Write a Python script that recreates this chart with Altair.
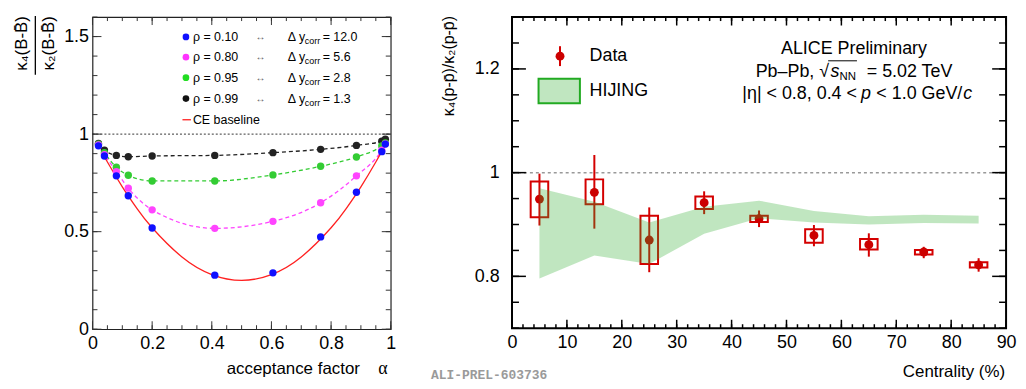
import altair as alt
import pandas as pd

FONT = "Liberation Sans"

# ---------------- Left panel data ----------------
alpha = [0.02, 0.04, 0.08, 0.12, 0.20, 0.41, 0.605, 0.765, 0.885, 0.970, 0.982]
rho_010 = [0.940, 0.888, 0.786, 0.684, 0.519, 0.277, 0.289, 0.473, 0.702, 0.910, 0.949]
rho_080 = [0.945, 0.895, 0.808, 0.723, 0.612, 0.517, 0.553, 0.648, 0.786, 0.918, 0.950]
rho_095 = [0.948, 0.905, 0.830, 0.789, 0.760, 0.760, 0.791, 0.835, 0.883, 0.940, 0.955]
rho_099 = [0.952, 0.918, 0.891, 0.884, 0.888, 0.891, 0.905, 0.922, 0.942, 0.964, 0.974]
series_names = ["rho099", "rho095", "rho080", "rho010"]
series_colors = ["#111111", "#22dd22", "#ff33ff", "#1010ff"]
line_colors = ["#222222", "#33cc33", "#ff44ff", "#1010ff"]

ce_alpha = [0.03, 0.05, 0.10, 0.15, 0.20, 0.30, 0.40, 0.50, 0.60, 0.70, 0.80, 0.85, 0.90, 0.95, 0.97]
ce_value = [0.913, 0.857, 0.730, 0.617, 0.520, 0.370, 0.280, 0.250, 0.280, 0.370, 0.520, 0.617, 0.730, 0.857, 0.913]

left_x_ticks = [0, 0.2, 0.4, 0.6, 0.8, 1]
left_y_ticks = [0, 0.5, 1, 1.5]
left_x_minor = [round(i * 0.05, 2) for i in range(21)]
left_y_minor = [round(i * 0.1, 1) for i in range(17)]

legend_rows = ["ρ = 0.10", "ρ = 0.80", "ρ = 0.95", "ρ = 0.99"]
legend_dy = ["12.0", "5.6", "2.8", "1.3"]

# ---------------- Right panel data ----------------
cent = [5, 15, 25, 35, 45, 55, 65, 75, 85]
ratio = [0.949, 0.962, 0.870, 0.942, 0.911, 0.879, 0.861, 0.847, 0.822]
stat_lo = [0.898, 0.892, 0.808, 0.920, 0.895, 0.858, 0.838, 0.835, 0.809]
stat_hi = [0.998, 1.034, 0.933, 0.964, 0.927, 0.899, 0.883, 0.857, 0.835]
sys_lo = [0.914, 0.939, 0.824, 0.930, 0.905, 0.865, 0.852, 0.842, 0.817]
sys_hi = [0.983, 0.987, 0.917, 0.954, 0.917, 0.891, 0.872, 0.851, 0.827]

hij_cent = [5, 15, 25, 35, 45, 55, 65, 75, 85]
hij_lo = [0.796, 0.840, 0.824, 0.882, 0.912, 0.904, 0.900, 0.903, 0.902]
hij_hi = [0.970, 0.944, 0.904, 0.934, 0.946, 0.926, 0.916, 0.919, 0.917]

right_x_ticks = [0, 10, 20, 30, 40, 50, 60, 70, 80, 90]
right_y_ticks = [0.8, 1.0, 1.2]
right_x_minor = [i * 2 for i in range(46)]
right_y_minor = [round(0.7 + i * 0.05, 2) for i in range(13)]

dummy = pd.DataFrame({"d": [0]})


def txt(s, x, y, size=12, align="left", baseline="middle", color="black",
        font=FONT, angle=0, style="normal", weight="normal"):
    return alt.Chart(dummy).mark_text(
        text=s, align=align, baseline=baseline, fontSize=size, font=font,
        color=color, angle=angle, fontStyle=style, fontWeight=weight
    ).encode(x=alt.value(x), y=alt.value(y))


def ticks(values, orient, length, W, H, xscale, yscale, xaxis, yaxis, color="black", width=1):
    df = pd.DataFrame({"v": values})
    base = alt.Chart(df).mark_rule(color=color, strokeWidth=width)
    if orient == "bottom":
        return base.encode(x=alt.X("v:Q", scale=xscale, axis=xaxis), y=alt.value(H), y2=alt.value(H - length))
    if orient == "top":
        return base.encode(x=alt.X("v:Q", scale=xscale, axis=xaxis), y=alt.value(0), y2=alt.value(length))
    if orient == "left":
        return base.encode(y=alt.Y("v:Q", scale=yscale, axis=yaxis), x=alt.value(0), x2=alt.value(length))
    return base.encode(y=alt.Y("v:Q", scale=yscale, axis=yaxis), x=alt.value(W), x2=alt.value(W - length))


# ================= LEFT PANEL =================
W1, H1 = 300, 314
xs1 = alt.Scale(domain=[0, 1], nice=False, zero=False)
ys1 = alt.Scale(domain=[0, 1.6], nice=False, zero=False)
ax1x = alt.Axis(values=left_x_ticks, format="~g", ticks=False, domain=False, grid=False,
                labelFont=FONT, labelFontSize=18, labelPadding=5, labelFlush=False,
                labelColor="black", title=None)
ax1y = alt.Axis(values=left_y_ticks, format="~g", ticks=False, domain=False, grid=False,
                labelFont=FONT, labelFontSize=18, labelPadding=4, labelColor="black", title=None)

rows = []
for name, vals in zip(series_names, [rho_099, rho_095, rho_080, rho_010]):
    for a, v in zip(alpha, vals):
        rows.append({"alpha": a, "val": v, "series": name})
df_pts = pd.DataFrame(rows)
df_pts["order"] = df_pts["series"].map({n: i for i, n in enumerate(series_names)})
df_ce = pd.DataFrame({"alpha": ce_alpha, "val": ce_value})

one_df = pd.DataFrame({"v": [1.0]})
unity1 = alt.Chart(one_df).mark_rule(color="black", strokeDash=[2, 2], strokeWidth=0.8).encode(
    y=alt.Y("v:Q", scale=ys1, axis=ax1y), x=alt.value(0), x2=alt.value(W1))

dashed = alt.Chart(df_pts[df_pts.series != "rho010"]).mark_line(
    strokeDash=[4, 3], strokeWidth=1.3, interpolate="monotone").encode(
    x=alt.X("alpha:Q", scale=xs1, axis=ax1x),
    y=alt.Y("val:Q", scale=ys1, axis=ax1y),
    color=alt.Color("series:N", scale=alt.Scale(domain=series_names, range=line_colors), legend=None),
    detail="series:N")

ce_line = alt.Chart(df_ce).mark_line(color="#ff2020", strokeWidth=1.3, interpolate="natural").encode(
    x=alt.X("alpha:Q", scale=xs1, axis=ax1x), y=alt.Y("val:Q", scale=ys1, axis=ax1y))

pts = alt.Chart(df_pts).mark_circle(size=55, opacity=1).encode(
    x=alt.X("alpha:Q", scale=xs1, axis=ax1x),
    y=alt.Y("val:Q", scale=ys1, axis=ax1y),
    color=alt.Color("series:N", scale=alt.Scale(domain=series_names, range=series_colors), legend=None),
    order="order:Q")

left_layers = [unity1, dashed, ce_line]
for o, L, l in [("bottom", 8, 4), ("top", 8, 4), ("left", 9, 5), ("right", 9, 5)]:
    minor = left_x_minor if o in ("bottom", "top") else left_y_minor
    major = left_x_ticks if o in ("bottom", "top") else left_y_ticks
    left_layers.append(ticks(minor, o, l, W1, H1, xs1, ys1, ax1x, ax1y, color="#333333"))
    left_layers.append(ticks(major, o, L, W1, H1, xs1, ys1, ax1x, ax1y, color="#333333"))
left_layers.append(pts)

# legend (in-plot)
leg_y = [20, 40.3, 61, 82]
leg_colors = ["#1010ff", "#ff33ff", "#22dd22", "#111111"]
for yy, lab, dyv, col in zip(leg_y, legend_rows, legend_dy, leg_colors):
    left_layers.append(alt.Chart(dummy).mark_circle(size=45, color=col, opacity=1).encode(
        x=alt.value(94), y=alt.value(yy)))
    left_layers.append(txt(lab, 101, yy, size=12.5))
    left_layers.append(txt("↔", 169, yy, size=10, align="center", color="#555555"))
    left_layers.append(txt("Δ y", 196.5, yy, size=12.5))
    left_layers.append(txt("corr", 213.5, yy + 4, size=9))
    left_layers.append(txt("= " + dyv, 231.5, yy, size=12.5))
left_layers.append(alt.Chart(dummy).mark_rule(color="#ff2020", strokeWidth=1.3).encode(
    x=alt.value(90.5), x2=alt.value(99), y=alt.value(103.3)))
left_layers.append(txt("CE baseline", 101, 103.3, size=12.5))

# axis titles
left_layers.append(txt("acceptance factor", 269, 359, size=17, align="right", baseline="alphabetic"))
left_layers.append(txt("α", 297, 359, size=18, align="right", baseline="alphabetic", font="Liberation Serif"))
left_layers.append(txt("κ₄(B-B̄)", -70.5, -1, size=17, align="right", angle=270))
left_layers.append(txt("κ₂(B-B̄)", -43.5, -1, size=17, align="right", angle=270))
left_layers.append(alt.Chart(dummy).mark_rule(color="black", strokeWidth=1.3).encode(
    x=alt.value(-57.5), y=alt.value(-1), y2=alt.value(58)))

left = alt.layer(*left_layers).properties(
    width=W1, height=H1, view=alt.ViewBackground(stroke="#222222", strokeWidth=1.2))

# ================= RIGHT PANEL =================
W2, H2 = 497, 313
xs2 = alt.Scale(domain=[0, 90], nice=False, zero=False)
ys2 = alt.Scale(domain=[0.7, 1.3], nice=False, zero=False)
ax2x = alt.Axis(values=right_x_ticks, format="d", ticks=False, domain=False, grid=False,
                labelFont=FONT, labelFontSize=18, labelPadding=5, labelFlush=False,
                labelColor="black", title=None)
ax2y = alt.Axis(values=right_y_ticks, format="~g", ticks=False, domain=False, grid=False,
                labelFont=FONT, labelFontSize=18, labelPadding=13, labelColor="black", title=None)

df_d = pd.DataFrame({"c": cent, "r": ratio, "slo": stat_lo, "shi": stat_hi, "ylo": sys_lo, "yhi": sys_hi})
df_h = pd.DataFrame({"c": hij_cent, "lo": hij_lo, "hi": hij_hi})

unity2 = alt.Chart(one_df).mark_rule(color="#999999", strokeDash=[3, 3], strokeWidth=1.5).encode(
    y=alt.Y("v:Q", scale=ys2, axis=ax2y), x=alt.value(0), x2=alt.value(W2))

RED = "#d40000"
base_d = alt.Chart(df_d)
errbar = base_d.mark_rule(color=RED, strokeWidth=2).encode(
    x=alt.X("c:Q", scale=xs2, axis=ax2x), y=alt.Y("slo:Q", scale=ys2, axis=ax2y), y2="shi:Q")
boxes = base_d.transform_calculate(c0="datum.c - 1.6", c1="datum.c + 1.6").mark_rect(
    filled=False, stroke=RED, strokeWidth=2).encode(
    x=alt.X("c0:Q", scale=xs2, axis=ax2x), x2="c1:Q",
    y=alt.Y("ylo:Q", scale=ys2, axis=ax2y), y2="yhi:Q")
dpts = base_d.mark_circle(size=80, color="#cc0000", opacity=1).encode(
    x=alt.X("c:Q", scale=xs2, axis=ax2x), y=alt.Y("r:Q", scale=ys2, axis=ax2y))
band = alt.Chart(df_h).mark_area(color="#2dac2d", opacity=0.3).encode(
    x=alt.X("c:Q", scale=xs2, axis=ax2x), y=alt.Y("lo:Q", scale=ys2, axis=ax2y), y2="hi:Q")

right_layers = [unity2, errbar, boxes, dpts, band]
for o, L, l in [("bottom", 8.5, 4), ("top", 8.5, 4), ("left", 14, 7), ("right", 14, 7)]:
    minor = right_x_minor if o in ("bottom", "top") else right_y_minor
    major = right_x_ticks if o in ("bottom", "top") else right_y_ticks
    right_layers.append(ticks(minor, o, l, W2, H2, xs2, ys2, ax2x, ax2y, width=1.5))
    right_layers.append(ticks(major, o, L, W2, H2, xs2, ys2, ax2x, ax2y, width=1.5))

# legend
right_layers.append(alt.Chart(dummy).mark_rule(color=RED, strokeWidth=2).encode(
    x=alt.value(48.3), y=alt.value(29.3), y2=alt.value(49.3)))
right_layers.append(alt.Chart(dummy).mark_circle(size=80, color="#cc0000", opacity=1).encode(
    x=alt.value(48.3), y=alt.value(39.3)))
right_layers.append(txt("Data", 78, 39.3, size=18))
right_layers.append(alt.Chart(dummy).mark_rect(fill="#c0e6c0", stroke="#22aa22", strokeWidth=2).encode(
    x=alt.value(26.7), x2=alt.value(68.3), y=alt.value(62), y2=alt.value(86.7)))
right_layers.append(txt("HIJING", 78, 74, size=18))

# ALICE label
right_layers.append(txt("ALICE Preliminary", 344, 32, size=18, align="center"))
right_layers.append(txt("Pb–Pb, √", 319, 55.3, size=18, align="right"))
right_layers.append(txt("s", 320.5, 55.3, size=18, style="italic"))
right_layers.append(txt("NN", 329.5, 60, size=11.5))
right_layers.append(txt("= 5.02 TeV", 443, 55.3, size=18, align="right"))
right_layers.append(alt.Chart(dummy).mark_rule(color="black", strokeWidth=1).encode(
    x=alt.value(318), x2=alt.value(347), y=alt.value(44)))
right_layers.append(txt("|η| < 0.8, 0.4 <", 347, 77, size=18, align="right"))
right_layers.append(txt("p", 351, 77, size=18, style="italic"))
right_layers.append(txt("< 1.0 GeV/", 453, 77, size=18, align="right"))
right_layers.append(txt("c", 454, 77, size=18, style="italic"))

# axis titles
right_layers.append(txt("Centrality (%)", 496, 362, size=17, align="right", baseline="alphabetic"))
right_layers.append(txt("κ₄(p-p̄)/κ₂(p-p̄)", -63, -1, size=16, align="right", angle=270))
right_layers.append(txt("ALI-PREL-603736", -23, 360, size=13, align="center",
                        font="Liberation Mono", color="#9a9a9a", weight="bold"))

right = alt.layer(*right_layers).properties(
    width=W2, height=H2, view=alt.ViewBackground(stroke="black", strokeWidth=2))

chart = alt.hconcat(left, right, spacing=33).properties(
    padding={"left": 4, "top": 5, "right": 0, "bottom": 0}
).configure_view(stroke="black")

chart.save("out.html", embed_options={"renderer": "svg", "actions": False})
